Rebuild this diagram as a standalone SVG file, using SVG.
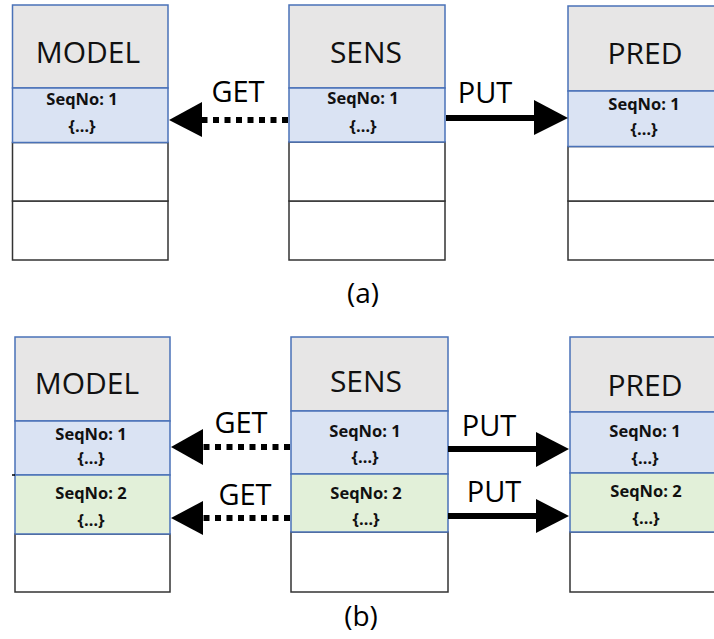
<svg xmlns="http://www.w3.org/2000/svg" width="714" height="639" viewBox="0 0 714 639">
<style>
.hdr{fill:#e7e6e6;stroke:#4a72b8;stroke-width:1.5}
.blue{fill:#dae3f3;stroke:#4a72b8;stroke-width:1.5}
.green{fill:#e2f0d9;stroke:#4a72b8;stroke-width:1.5}
.empty{fill:#ffffff;stroke:#333333;stroke-width:1.5}
.title{font-family:"Open Sans","Liberation Sans",sans-serif;font-size:30px;fill:#111;text-anchor:middle}
.seq{font-family:"Open Sans","Liberation Sans",sans-serif;font-size:16.5px;font-weight:bold;fill:#111;text-anchor:middle}
.lbl{font-family:"Open Sans","Liberation Sans",sans-serif;font-size:29px;fill:#000;text-anchor:middle}
.cap{font-family:"Open Sans","Liberation Sans",sans-serif;font-size:28px;fill:#000;text-anchor:middle}
.dot{stroke:#000;stroke-width:6;stroke-dasharray:6 5.5;fill:none}
.solid{stroke:#000;stroke-width:6;fill:none}
.head{fill:#000}
</style>
<rect width="714" height="639" fill="#ffffff"/>

<!-- (a) -->
<g id="model-a">
<rect class="empty" x="12.5" y="201" width="155.5" height="59"/>
<rect class="empty" x="12.5" y="142.5" width="155.5" height="58.5"/>
<rect class="hdr" x="12.5" y="5" width="155.5" height="83"/>
<rect class="blue" x="12.5" y="88" width="155.5" height="54.5"/>
<text class="title" x="88" y="63">MODEL</text>
<text class="seq" x="82" y="105">SeqNo: 1</text>
<text class="seq" x="82" y="132">{…}</text>
</g>
<g id="sens-a">
<rect class="empty" x="289" y="201" width="156" height="59"/>
<rect class="empty" x="289" y="142" width="156" height="59"/>
<rect class="hdr" x="289" y="5" width="156" height="83"/>
<rect class="blue" x="289" y="88" width="156" height="54"/>
<text class="title" x="366" y="63">SENS</text>
<text class="seq" x="363" y="104">SeqNo: 1</text>
<text class="seq" x="363" y="132">{…}</text>
</g>
<g id="pred-a">
<rect class="empty" x="568" y="201" width="160" height="59"/>
<rect class="empty" x="568" y="146.5" width="160" height="54.5"/>
<rect class="hdr" x="568" y="6" width="160" height="85"/>
<rect class="blue" x="568" y="91" width="160" height="55.5"/>
<text class="title" x="645" y="64">PRED</text>
<text class="seq" x="644" y="110">SeqNo: 1</text>
<text class="seq" x="644" y="135">{…}</text>
</g>

<!-- (b) -->
<g id="model-b">
<rect class="empty" x="15" y="534" width="155" height="58"/>
<rect class="hdr" x="15" y="337" width="155" height="84"/>
<rect class="blue" x="15" y="421" width="155" height="54"/>
<rect class="green" x="15" y="475" width="155" height="59"/>
<line x1="12" y1="475" x2="15" y2="475" stroke="#000" stroke-width="1.5"/>
<text class="title" x="87" y="394">MODEL</text>
<text class="seq" x="91" y="440">SeqNo: 1</text>
<text class="seq" x="91" y="464">{…}</text>
<text class="seq" x="91" y="499">SeqNo: 2</text>
<text class="seq" x="91" y="526">{…}</text>
</g>
<g id="sens-b">
<rect class="empty" x="291" y="532" width="157" height="60"/>
<rect class="hdr" x="291" y="337" width="157" height="74"/>
<rect class="blue" x="291" y="411" width="157" height="63"/>
<rect class="green" x="291" y="474" width="157" height="58"/>
<text class="title" x="366" y="392">SENS</text>
<text class="seq" x="365" y="437">SeqNo: 1</text>
<text class="seq" x="365" y="463">{…}</text>
<text class="seq" x="366" y="499">SeqNo: 2</text>
<text class="seq" x="366" y="525">{…}</text>
</g>
<g id="pred-b">
<rect class="empty" x="570" y="532" width="160" height="60"/>
<rect class="hdr" x="570" y="337" width="160" height="75"/>
<rect class="blue" x="570" y="412" width="160" height="61"/>
<rect class="green" x="570" y="473" width="160" height="59"/>
<text class="title" x="645" y="396">PRED</text>
<text class="seq" x="645" y="437">SeqNo: 1</text>
<text class="seq" x="645" y="464">{…}</text>
<text class="seq" x="646" y="497">SeqNo: 2</text>
<text class="seq" x="646" y="524">{…}</text>
</g>

<g id="connectors">
<line class="dot" x1="288" y1="120" x2="202" y2="120"/>
<polygon class="head" points="169,120 202,102 202,137"/>
<line class="solid" x1="446" y1="118" x2="536" y2="118"/>
<polygon class="head" points="568,118 534,100 534,135"/>

<line class="dot" x1="290" y1="447" x2="203" y2="447"/>
<polygon class="head" points="171,447 203,429 203,465"/>
<line class="dot" x1="290" y1="518" x2="203" y2="518"/>
<polygon class="head" points="171,518 203,501 203,535"/>
<line class="solid" x1="448" y1="449" x2="537" y2="449"/>
<polygon class="head" points="569,449 536,432 536,467"/>
<line class="solid" x1="448" y1="516" x2="537" y2="516"/>
<polygon class="head" points="569,516 536,499 536,533"/>
</g>

<g id="labels">
<text class="lbl" x="238" y="102">GET</text>
<text class="lbl" x="485" y="103">PUT</text>
<text class="lbl" x="241" y="433">GET</text>
<text class="lbl" x="245" y="505">GET</text>
<text class="lbl" x="489" y="436">PUT</text>
<text class="lbl" x="494" y="502">PUT</text>
<text class="cap" x="363" y="303">(a)</text>
<text class="cap" x="361" y="626">(b)</text>
</g>
</svg>
